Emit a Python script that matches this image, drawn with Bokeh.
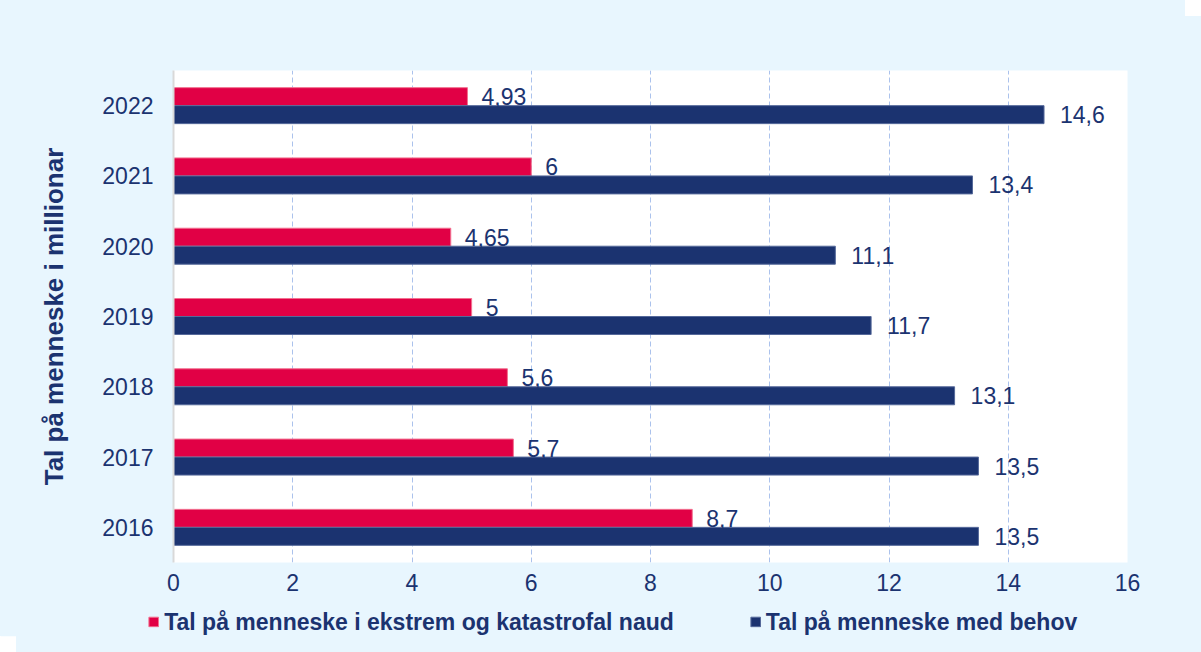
from bokeh.plotting import figure
from bokeh.models import ColumnDataSource, FactorRange, Range1d, FixedTicker, Legend, LegendItem
from bokeh.layouts import column
from bokeh.transform import dodge
from bokeh.core.properties import value
from bokeh.embed import file_html
from bokeh.resources import INLINE

years = ["2016", "2017", "2018", "2019", "2020", "2021", "2022"]
extreme = [8.7, 5.7, 5.6, 5, 4.65, 6, 4.93]
need = [13.5, 13.5, 13.1, 11.7, 11.1, 13.4, 14.6]
x_ticks = [0, 2, 4, 6, 8, 10, 12, 14, 16]
series_names = ["Tal på menneske i ekstrem og katastrofal naud", "Tal på menneske med behov"]
y_title = "Tal på menneske i millionar"

RED = "#E10045"
NAVY = "#1B3370"
BG = "#E8F6FE"
FONT = "Liberation Sans"
W = 1185
H_MAIN = 608
H_LEG = 28
F_LEFT, F_RIGHT, F_TOP, F_BOTTOM = 173, 1127, 70, 562


def fmt(v):
    return f"{v:g}".replace(".", ",")


src = ColumnDataSource(dict(
    year=years,
    extreme=extreme,
    need=need,
    extreme_lbl=[fmt(v) for v in extreme],
    need_lbl=[fmt(v) for v in need],
))

p = figure(
    width=W, height=H_MAIN,
    y_range=FactorRange(factors=years, range_padding=0),
    x_range=Range1d(0, 16),
    output_backend="svg", toolbar_location=None,
    min_border_left=F_LEFT, min_border_right=W - F_RIGHT, min_border_top=F_TOP,
    min_border_bottom=H_MAIN - F_BOTTOM,
)
p.background_fill_color = "white"
p.border_fill_color = BG
p.outline_line_color = None

BAR_H = 0.256
r1 = p.hbar(y=dodge("year", BAR_H / 2, range=p.y_range), right="extreme", left=0, height=BAR_H,
            source=src, fill_color=RED, line_color="#F2708F", line_width=1)
r2 = p.hbar(y=dodge("year", -BAR_H / 2, range=p.y_range), right="need", left=0, height=BAR_H,
            source=src, fill_color=NAVY, line_color="#55699A", line_width=1)

p.text(x="extreme", y=dodge("year", BAR_H / 2, range=p.y_range), text="extreme_lbl", source=src,
       x_offset=14, text_baseline="middle", text_align="left", text_color=NAVY,
       text_font=value(FONT), text_font_size="23px")
p.text(x="need", y=dodge("year", -BAR_H / 2, range=p.y_range), text="need_lbl", source=src,
       x_offset=16, text_baseline="middle", text_align="left", text_color=NAVY,
       text_font=value(FONT), text_font_size="23px")

# grids
p.ygrid.grid_line_color = None
p.xgrid.ticker = FixedTicker(ticks=x_ticks)
p.xgrid.grid_line_color = "#ABC2EC"
p.xgrid.grid_line_dash = "5 3"
p.xgrid.grid_line_width = 1

# x axis
p.xaxis.ticker = FixedTicker(ticks=x_ticks)
p.xaxis.axis_line_color = None
p.xaxis.major_tick_line_color = None
p.xaxis.minor_tick_line_color = None
p.xaxis.major_tick_out = 0
p.xaxis.major_label_standoff = 11
p.xaxis.major_label_text_font = FONT
p.xaxis.major_label_text_font_size = "23px"
p.xaxis.major_label_text_color = NAVY

# y axis
p.yaxis.axis_line_color = "#D9D9D9"
p.yaxis.axis_line_width = 2
p.yaxis.major_tick_line_color = None
p.yaxis.major_tick_out = 0
p.yaxis.major_label_standoff = 20
p.yaxis.major_label_text_font = FONT
p.yaxis.major_label_text_font_size = "23px"
p.yaxis.major_label_text_color = NAVY
p.yaxis.axis_label = y_title
p.yaxis.axis_label_text_font = FONT
p.yaxis.axis_label_text_font_size = "26px"
p.yaxis.axis_label_text_font_style = "bold"
p.yaxis.axis_label_text_color = NAVY
p.yaxis.axis_label_standoff = 30

# legend strip below the chart (its bars lie outside its own x range, only the swatches show)
lf = figure(
    width=W, height=H_LEG,
    y_range=FactorRange(factors=years), x_range=Range1d(-2, -1),
    output_backend="svg", toolbar_location=None,
    min_border_left=F_LEFT, min_border_right=W - F_RIGHT, min_border_top=0, min_border_bottom=0,
)
lf.axis.visible = False
lf.grid.grid_line_color = None
lf.outline_line_color = None
lf.background_fill_alpha = 0
lf.border_fill_color = BG
g1 = lf.hbar(y="year", right="extreme", left=0, height=0.5, source=src,
             fill_color=RED, line_color="#F2708F")
g2 = lf.hbar(y="year", right="need", left=0, height=0.5, source=src,
             fill_color=NAVY, line_color="#55699A")

legend = Legend(
    items=[LegendItem(label=series_names[0], renderers=[g1]),
           LegendItem(label=series_names[1], renderers=[g2])],
    orientation="horizontal",
    location="center",
    label_text_font=FONT,
    label_text_font_size="23px",
    label_text_font_style="bold",
    label_text_color=NAVY,
    glyph_width=12, glyph_height=12,
    label_standoff=5,
    label_width=387,
    spacing=75,
    padding=0, margin=0,
    background_fill_alpha=0,
    border_line_color=None,
)
lf.add_layout(legend, "above")

layout = column(p, lf, spacing=0,
                styles={"background-color": BG, "box-shadow": "16px 16px 0 0 " + BG})
open("out.html", "w").write(file_html(layout, INLINE))
